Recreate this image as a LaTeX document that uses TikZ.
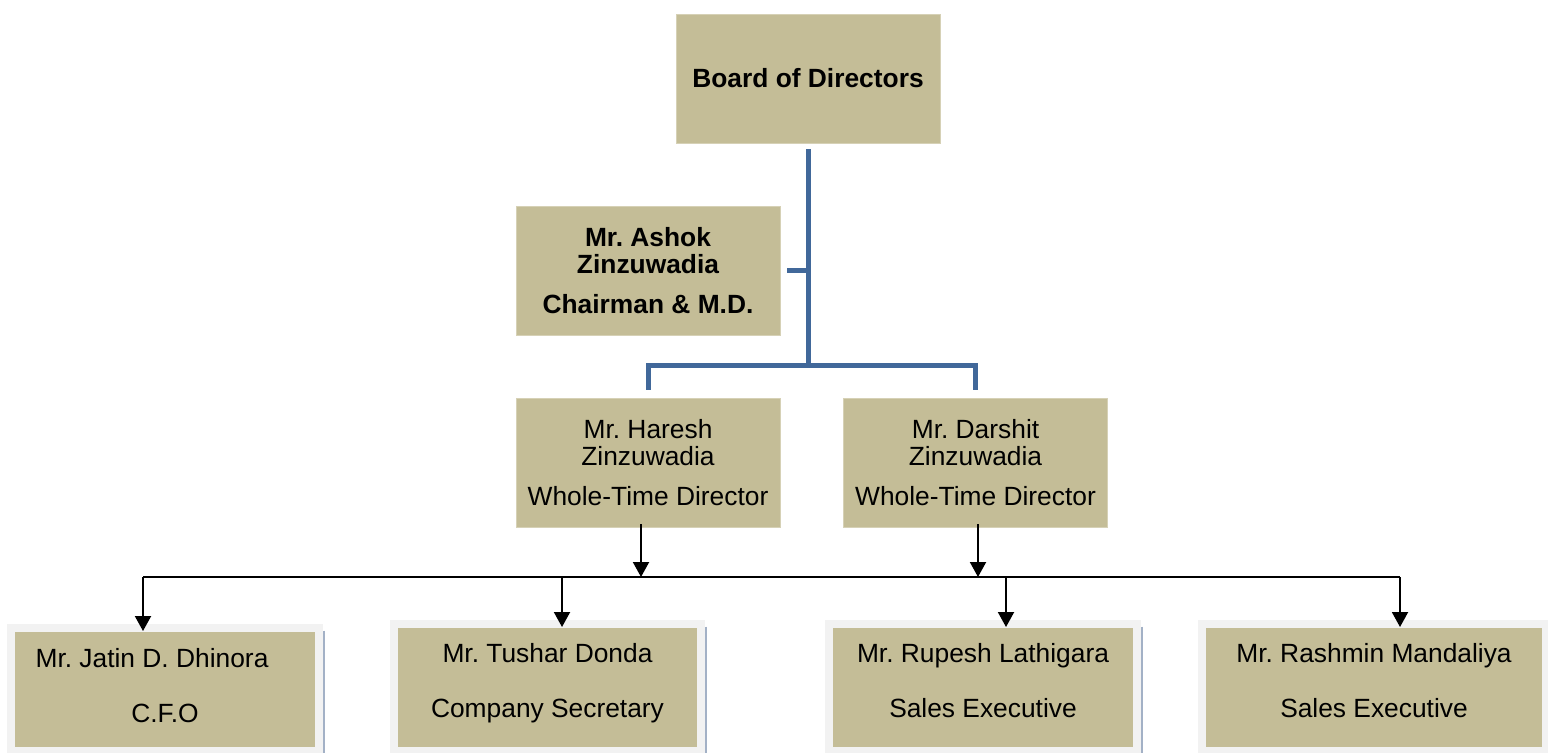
\documentclass[tikz,border=0pt]{standalone}
\usepackage{fontspec}
\setmainfont{Liberation Sans}
\frenchspacing
\usetikzlibrary{arrows.meta,positioning,calc}
\definecolor{boxtan}{HTML}{C4BD97}
\definecolor{linkblue}{HTML}{41689A}
\definecolor{framegray}{HTML}{F2F2F2}
\definecolor{edgeblue}{HTML}{A3B1C6}
% struts to seat the two text rows of a staff box
\newcommand{\headroom}[1][0.48cm]{\rule{0pt}{#1}}
\newcommand{\footroom}{\rule[-0.4cm]{0pt}{0.4cm}}

\begin{document}
\begin{tikzpicture}[x=0.02cm, y=-0.02cm, >={Triangle[width=0.32cm,length=0.3cm]}]
	\tikzset{
		box/.style={fill=boxtan, draw=boxtan!70!white, line width=0.5pt, minimum width=5.28cm, minimum height=2.58cm,
			align=center, inner sep=0pt, font=\fontsize{15}{15.4}\selectfont},
		boss/.style={box, font=\fontsize{15}{15.4}\selectfont\bfseries},
		staff/.style={fill=boxtan, draw=framegray, line width=0.16cm, outer sep=0pt, minimum width=6.16cm, minimum height=2.54cm,
			align=center, inner sep=0pt, font=\fontsize{15}{31.3}\selectfont},
		link/.style={linkblue, line width=0.1cm},
		feed/.style={black, line width=0.04cm},
		edge/.style={edgeblue, line width=0.04cm}
	}
	\clip (0,0) rectangle (1548,753);
	\fill[white] (0,0) rectangle (1548,753);
	% directors
	\node[boss] (board) at (808,78.5) {Board of Directors};
	\node[boss] (ashok) at (648,270.5) {Mr. Ashok\\Zinzuwadia\\[0.26cm]Chairman \& M.D.};
	\node[box] (haresh) at (648,462.5) {Mr. Haresh\\Zinzuwadia\\[0.26cm]Whole-Time Director};
	\node[box] (darshit) at (975.5,462.5) {Mr. Darshit\\Zinzuwadia\\[0.26cm]Whole-Time Director};
	% staff
	\node[staff, minimum height=2.46cm] (jatin) at (165,689.5) {\headroom[0.6cm]Mr. Jatin D. Dhinora\hspace*{0.52cm}\\C.F.O\footroom};
	\node[staff] (tushar) at (547.5,687.5) {\headroom Mr. Tushar Donda\\Company Secretary\footroom};
	\node[staff] (rupesh) at (983,687.5) {\headroom Mr. Rupesh Lathigara\\Sales Executive\footroom};
	\node[staff, minimum width=6.88cm] (rashmin) at (1374,687.5) {\headroom Mr. Rashmin Mandaliya\\Sales Executive\footroom};
	\foreach \who in {jatin,tushar,rupesh}
		\draw[edge] ([xshift=0.1cm,yshift=-0.05cm]\who.north east) -- ([xshift=0.1cm,yshift=-0.2cm]\who.south east);
	% board links
	\coordinate (split) at (808,365);
	\draw[link] ([yshift=-0.12cm]board.south) -- (split);
	\draw[link] ([yshift=0.16cm]haresh.north) |- (split) -| ([yshift=0.16cm]darshit.north);
	\draw[link] ([xshift=0.14cm]ashok.east) -- (ashok.east -| split);
	% reporting lines
	\coordinate (tap-jatin) at (143,577);
	\coordinate (tap-tushar) at (562,577);
	\coordinate (tap-rupesh) at (1006,577);
	\coordinate (tap-rashmin) at (1400,577);
	\draw[feed] (tap-jatin) -- (tap-rashmin);
	\draw[feed,->] ([xshift=-0.14cm,yshift=0.06cm]haresh.south) -- ([xshift=-0.14cm]haresh.south |- tap-jatin);
	\draw[feed,->] ([xshift=0.05cm,yshift=0.06cm]darshit.south) -- ([xshift=0.05cm]darshit.south |- tap-jatin);
	\foreach \who in {jatin,tushar,rupesh,rashmin}
		\draw[feed,->] (tap-\who) -- ([yshift=-0.06cm]tap-\who |- \who.north);
\end{tikzpicture}
\end{document}
